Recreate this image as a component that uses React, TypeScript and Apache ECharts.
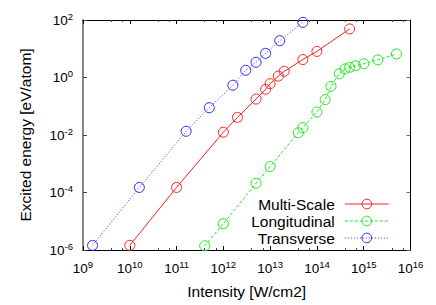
import React, { useEffect, useRef } from "react";
import * as echarts from "echarts";

const seriesNames = ["Multi-Scale", "Longitudinal", "Transverse"];
const seriesColors = ["#ff2020", "#20e820", "#2828ff"];

const multiX = [1e10, 1e11, 1e12, 2e12, 5e12, 8e12, 1e13, 1.5e13, 2e13, 5e13, 1e14, 5e14];
const multiY = [1.45e-6, 1.5e-4, 0.0125, 0.041, 0.178, 0.39, 0.61, 1.12, 1.64, 4.2, 8.1, 49];

const longX = [4e11, 1e12, 5e12, 1e13, 4e13, 5e13, 1e14, 1.5e14, 2e14, 3e14, 4e14, 5e14, 6.7e14, 1e15, 2e15, 5e15];
const longY = [1.4e-6, 8.2e-6, 2.1e-4, 8e-4, 0.012, 0.018, 0.063, 0.17, 0.49, 1.35, 2.0, 2.26, 2.57, 3.0, 4.1, 6.6];

const transX = [1.6e9, 1.6e10, 1.6e11, 5e11, 1.6e12, 3e12, 5e12, 8e12, 1.6e13, 5e13];
const transY = [1.45e-6, 1.5e-4, 0.0135, 0.089, 0.54, 1.78, 3.4, 6.9, 19, 83];

const xMin = 1e9;
const xMax = 1e16;
const yMin = 1e-6;
const yMax = 1e2;

const FONT = "Liberation Sans";

const pairs = (xs: number[], ys: number[]) => xs.map((x, i) => [x, ys[i]]);

const powLabel = (v: number) => {
  const e = Math.round(Math.log10(v));
  return `{b|10}{s|${e}}`;
};
const powLabelEven = (v: number) => {
  const e = Math.round(Math.log10(v));
  return e % 2 === 0 ? `{b|10}{s|${e}}` : "";
};

const rich = {
  b: { fontSize: 13.5, fontFamily: FONT, color: "#000" },
  s: { fontSize: 9.5, fontFamily: FONT, color: "#000", padding: [0, 0, 8, 0] },
};

export default function App() {
  const ref = useRef<HTMLDivElement>(null);
  useEffect(() => {
    document.body.style.margin = "0";
    if (!ref.current) return;
    const chart = echarts.init(ref.current, undefined, { renderer: "svg" });
    const dashes: any[] = ["solid", [3, 2], [1, 2]];
    const datas = [pairs(multiX, multiY), pairs(longX, longY), pairs(transX, transY)];
    chart.setOption({
      animation: false,
      backgroundColor: "#fff",
      grid: { left: 83, right: 25.5, top: 20, bottom: 55 },
      legend: {
        data: seriesNames,
        orient: "vertical",
        align: "right",
        right: 46.7,
        top: 195.5,
        padding: 0,
        itemWidth: 44,
        itemHeight: 12,
        itemGap: 0,
        lineStyle: { width: 1 },
        itemStyle: { borderWidth: 1 },
        textStyle: { fontSize: 15.5, lineHeight: 17, fontFamily: FONT, color: "#000", padding: [0, 5, 0, 0] },
      },
      xAxis: [
        {
          type: "log",
          logBase: 10,
          min: xMin,
          max: xMax,
          position: "bottom",
          name: "Intensity [W/cm2]",
          nameLocation: "middle",
          nameGap: 33,
          nameTextStyle: { fontSize: 15.5, fontFamily: FONT, color: "#000" },
          axisLine: { lineStyle: { color: "#000", width: 1 } },
          axisTick: { inside: true, length: 4, lineStyle: { color: "#000" } },
          minorTick: { show: true, splitNumber: 3, length: 2, lineStyle: { color: "#444" } },
          splitLine: { show: false },
          axisLabel: { formatter: powLabel, rich, margin: 9 },
        },
        {
          type: "log",
          logBase: 10,
          min: xMin,
          max: xMax,
          position: "top",
          axisLine: { lineStyle: { color: "#000", width: 1 } },
          axisTick: { inside: true, length: 4, lineStyle: { color: "#000" } },
          minorTick: { show: true, splitNumber: 3, length: 2, lineStyle: { color: "#444" } },
          splitLine: { show: false },
          axisLabel: { show: false },
        },
      ],
      yAxis: [
        {
          type: "log",
          logBase: 10,
          min: yMin,
          max: yMax,
          interval: 2,
          splitNumber: 4,
          position: "left",
          name: "Excited energy [eV/atom]",
          nameLocation: "middle",
          nameGap: 50,
          nameTextStyle: { fontSize: 15.5, fontFamily: FONT, color: "#000" },
          axisLine: { lineStyle: { color: "#888", width: 2 } },
          axisTick: { inside: true, length: 4, lineStyle: { color: "#444" } },
          splitLine: { show: false },
          axisLabel: { formatter: powLabelEven, rich, margin: 10 },
        },
        {
          type: "log",
          logBase: 10,
          min: yMin,
          max: yMax,
          interval: 2,
          splitNumber: 4,
          position: "right",
          axisLine: { lineStyle: { color: "#000", width: 1 } },
          axisTick: { inside: true, length: 4, lineStyle: { color: "#666" } },
          splitLine: { show: false },
          axisLabel: { show: false },
        },
      ],
      series: seriesNames.map((name, i) => ({
        name,
        type: "line",
        xAxisIndex: 0,
        yAxisIndex: 0,
        data: datas[i],
        color: seriesColors[i],
        symbol: "circle",
        symbolSize: 10,
        itemStyle: { color: "none", borderColor: seriesColors[i], borderWidth: 1 },
        lineStyle: { color: seriesColors[i], width: 1, type: dashes[i] },
        emphasis: { disabled: true },
      })),
    });
    return () => chart.dispose();
  }, []);
  return <div ref={ref} style={{ width: 436, height: 305 }} />;
}
